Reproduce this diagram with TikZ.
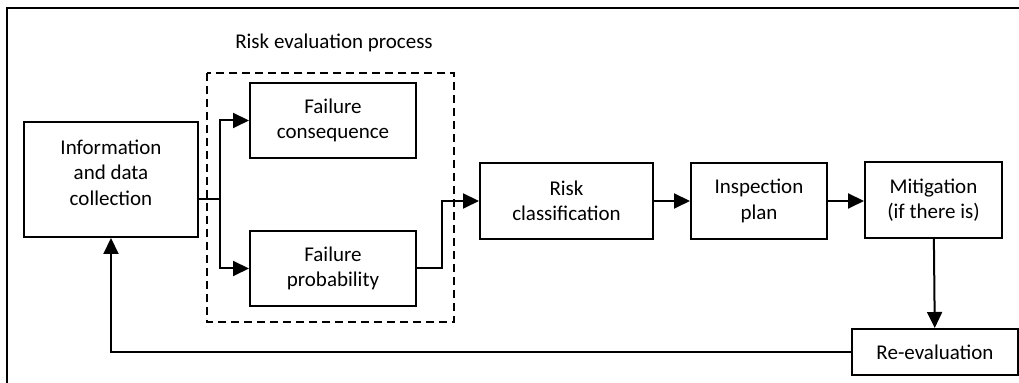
\documentclass[tikz,border=0pt]{standalone}
\usepackage{fontspec}
\setmainfont{Carlito}
\usetikzlibrary{arrows.meta}

\begin{document}
\begin{tikzpicture}[x=0.5pt,y=-0.5pt,
    box/.style={draw,line width=1pt,align=center,inner sep=0pt,
      font=\fontsize{10.5}{12.75}\selectfont},
    flow/.style={line width=1pt,-{Triangle[length=8pt,width=7.5pt]}},
    wire/.style={line width=1pt}]
      \useasboundingbox (0,0) rectangle (1019,383);
      \draw[line width=1.2pt] (7,383) -- (7,8) -- (1019,8);

      \node [font=\fontsize{10.5}{12.75}\selectfont] (title) at (334,43) {Risk evaluation process};
      \draw[line width=1pt,dash pattern=on 4pt off 2.5pt] (207,73) rectangle (454,322);

      \node [box,minimum width=87pt,minimum height=57.5pt,text depth=7pt] (info) at (111,179.5) {Information\\and data\\collection};
      \node [box,minimum width=83pt,minimum height=37.5pt] (cons) at (333,120.5) {Failure\\consequence};
      \node [box,minimum width=83pt,minimum height=37.5pt] (prob) at (333,268.5) {Failure\\probability};
      \node [box,minimum width=86.5pt,minimum height=38pt] (risk) at (566.5,201) {Risk\\classification};
      \node [box,minimum width=68pt,minimum height=38pt] (insp) at (759,201) {Inspection\\plan};
      \node [box,minimum width=68.5pt,minimum height=38pt] (mit) at (933.5,200) {Mitigation\\(if there is)};
      \node [box,minimum width=83pt,minimum height=23pt] (reval) at (935,352) {Re-evaluation};

      \coordinate (split) at (220,199);
      \coordinate (join) at (442,201);

      \draw[wire] (info.east |- split) -- (split);
      \draw[flow] (split) |- (cons.west);
      \draw[flow] (split) |- (prob.west);
      \draw[flow] (prob.east) -| (join) -- (risk.west);
      \draw[flow] (risk) -- (insp);
      \draw[flow] (insp) -- (mit.west |- insp);
      \draw[flow] (mit) -- (reval);
      \draw[flow] (reval.west) -| (info.south);

    \end{tikzpicture}
\end{document}
